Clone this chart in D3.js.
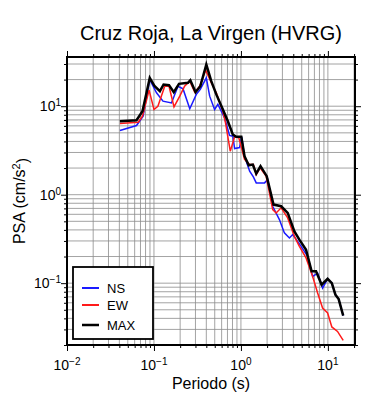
<!DOCTYPE html>
<meta charset="utf-8">
<script src="https://d3js.org/d3.v7.min.js"></script>
<style>
  body { margin: 0; background: #fff; }
  text { font-family: "Liberation Sans", Arial, sans-serif; }
</style>
<body>
<script>

var title = "Cruz Roja, La Virgen (HVRG)";

var nsPeriods = [0.0406, 0.063, 0.075, 0.0895, 0.107, 0.127, 0.159, 0.189, 0.216, 0.258, 0.307, 0.341, 0.400, 0.437, 0.498, 0.543, 0.649, 0.740, 0.808, 0.846, 0.964, 1.02, 1.10, 1.26, 1.39, 1.50, 1.87, 2.03, 2.32, 2.77, 3.16, 3.61, 3.94, 4.49, 4.92, 5.85, 6.68, 7.62, 8.69, 9.93, 11.1, 12.2, 13.3, 15.0];
var nsValues  = [5.31, 6.05, 7.71, 20.0, 14.2, 11.4, 10.9, 16.8, 15.7, 9.35, 13.6, 15.5, 20.9, 13.0, 9.18, 10.5, 7.39, 4.67, 4.58, 3.32, 3.41, 4.51, 2.72, 1.84, 1.59, 1.36, 1.36, 1.48, 0.740, 0.523, 0.370, 0.324, 0.354, 0.297, 0.261, 0.201, 0.119, 0.130, 0.088, 0.112, 0.100, 0.074, 0.066, 0.043];

var ewPeriods = [0.0406, 0.0658, 0.0738, 0.0879, 0.100, 0.111, 0.133, 0.149, 0.170, 0.198, 0.225, 0.258, 0.294, 0.335, 0.393, 0.456, 0.521, 0.620, 0.665, 0.754, 0.846, 0.946, 1.10, 1.26, 1.39, 1.50, 1.66, 1.95, 2.32, 2.54, 2.90, 3.45, 4.12, 4.70, 5.61, 6.68, 7.62, 8.69, 9.93, 11.1, 12.9, 15.0];
var ewValues  = [6.37, 6.59, 7.71, 15.2, 9.18, 10.0, 16.8, 16.8, 9.82, 12.98, 16.8, 19.2, 14.4, 16.8, 25.5, 18.4, 14.2, 8.78, 6.49, 3.10, 4.51, 4.39, 2.50, 2.19, 2.19, 1.69, 2.01, 1.62, 0.678, 0.622, 0.710, 0.547, 0.338, 0.261, 0.193, 0.119, 0.0774, 0.0524, 0.0460, 0.0320, 0.0285, 0.0225];

var maxPeriods = [0.0406, 0.063, 0.0738, 0.0895, 0.102, 0.117, 0.129, 0.149, 0.169, 0.194, 0.246, 0.262, 0.301, 0.341, 0.400, 0.456, 0.521, 0.620, 0.708, 0.808, 0.883, 1.01, 1.10, 1.23, 1.37, 1.50, 1.68, 1.98, 2.37, 2.90, 3.45, 4.12, 4.70, 5.61, 6.50, 7.31, 8.47, 9.93, 11.1, 12.2, 13.3, 15.0];
var maxValues  = [6.76, 6.95, 8.78, 20.9, 16.8, 14.8, 17.6, 17.3, 14.4, 17.9, 18.4, 19.7, 14.4, 16.8, 29.6, 19.2, 13.6, 9.18, 6.76, 4.78, 4.51, 4.51, 2.72, 2.15, 2.19, 1.73, 2.10, 1.62, 0.773, 0.740, 0.622, 0.385, 0.310, 0.239, 0.136, 0.136, 0.096, 0.112, 0.100, 0.074, 0.066, 0.043];

var seriesNames  = ["NS", "EW", "MAX"];
var seriesColors = ["#1a1aff", "#ff1a1a", "#000000"];
var xMajorTicks = [0.01, 0.1, 1, 10];
var xTickExps   = ["-2", "-1", "0", "1"];
var yMajorTicks = [0.1, 1, 10];
var yTickExps   = ["-1", "0", "1"];

var margin = {top: 57, left: 67},
    width = 288,
    height = 288;

var x = d3.scaleLog().domain([0.01, 20.5]).range([0, width]);
var y = d3.scaleLog().domain([0.02, 36]).range([height, 0]);

var svg = d3.select("body").append("svg")
    .attr("width", 390)
    .attr("height", 400);

var g = svg.append("g")
    .attr("transform", "translate(" + margin.left + "," + margin.top + ")");

// minor + major grid values
var xGrid = [], yGrid = [];
[0.01, 0.1, 1, 10].forEach(function(d) {
  for (var k = 1; k < 10; k++) { if (d * k <= 20.5) xGrid.push(d * k); }
});
[0.01, 0.1, 1, 10].forEach(function(d) {
  for (var k = 1; k < 10; k++) { if (d * k >= 0.02 && d * k <= 36) yGrid.push(d * k); }
});

g.append("g").selectAll("line")
  .data(xGrid).enter().append("line")
  .attr("x1", d => x(d)).attr("x2", d => x(d))
  .attr("y1", 0).attr("y2", height)
  .attr("stroke", "#8c8c8c").attr("stroke-width", 0.8);

g.append("g").selectAll("line")
  .data(yGrid).enter().append("line")
  .attr("y1", d => y(d)).attr("y2", d => y(d))
  .attr("x1", 0).attr("x2", width)
  .attr("stroke", "#8c8c8c").attr("stroke-width", 0.8);

// ticks on all four sides, outward
function addTicks(axisFn, scale, values, size, transform) {
  g.append("g")
    .attr("transform", transform)
    .call(axisFn(scale).tickValues(values).tickSize(size).tickSizeOuter(0).tickFormat(""))
    .call(s => s.select(".domain").remove())
    .selectAll("line").attr("stroke", "#000").attr("stroke-width", 1);
}
var xMinor = xGrid.filter(d => xMajorTicks.indexOf(d) < 0);
var yMinor = yGrid.filter(d => yMajorTicks.indexOf(d) < 0);
addTicks(d3.axisBottom, x, xMajorTicks, 6, "translate(0," + height + ")");
addTicks(d3.axisBottom, x, xMinor, 3, "translate(0," + height + ")");
addTicks(d3.axisTop, x, xMajorTicks, 6, "translate(0,0)");
addTicks(d3.axisTop, x, xMinor, 3, "translate(0,0)");
addTicks(d3.axisLeft, y, yMajorTicks, 6, "translate(0,0)");
addTicks(d3.axisLeft, y, yMinor, 3, "translate(0,0)");
addTicks(d3.axisRight, y, yMajorTicks, 6, "translate(" + width + ",0)");
addTicks(d3.axisRight, y, yMinor, 3, "translate(" + width + ",0)");

// tick labels with superscripts
var xl = g.append("g").selectAll("text")
  .data(xMajorTicks).enter().append("text")
  .attr("x", d => x(d))
  .attr("y", height + 25)
  .attr("text-anchor", "middle")
  .style("font-size", "14px");
xl.append("tspan").text("10");
xl.append("tspan").attr("dy", "-0.5em").style("font-size", "10px").text((d, i) => xTickExps[i].replace("-", "\u2212"));

var yl = g.append("g").selectAll("text")
  .data(yMajorTicks).enter().append("text")
  .attr("x", -6)
  .attr("y", d => y(d) + 5)
  .attr("text-anchor", "end")
  .style("font-size", "14px");
yl.append("tspan").text("10");
yl.append("tspan").attr("dy", "-0.5em").style("font-size", "10px").text((d, i) => yTickExps[i].replace("-", "\u2212"));

// series
g.append("clipPath").attr("id", "clip")
  .append("rect").attr("width", width).attr("height", height);

var line = d3.line().x(d => x(d[0])).y(d => y(d[1]));
var series = [
  {name: "NS",  periods: nsPeriods,  values: nsValues,  width: 1.5},
  {name: "EW",  periods: ewPeriods,  values: ewValues,  width: 1.5},
  {name: "MAX", periods: maxPeriods, values: maxValues, width: 2.5}
];
series.forEach(function(s, i) {
  g.append("path")
    .datum(d3.zip(s.periods, s.values))
    .attr("clip-path", "url(#clip)")
    .attr("fill", "none")
    .attr("stroke", seriesColors[i])
    .attr("stroke-width", s.width)
    .attr("stroke-linejoin", "miter")
    .attr("d", line);
});

// frame
g.append("rect")
  .attr("width", width).attr("height", height)
  .attr("fill", "none").attr("stroke", "#000").attr("stroke-width", 2);

// legend
var leg = g.append("g").attr("transform", "translate(6,210)");
leg.append("rect")
  .attr("width", 80).attr("height", 72)
  .attr("fill", "#fff").attr("stroke", "#000").attr("stroke-width", 1.8);
var legY = [21, 38, 58];
seriesNames.forEach(function(n, i) {
  leg.append("line")
    .attr("x1", 9).attr("x2", 26)
    .attr("y1", legY[i]).attr("y2", legY[i])
    .attr("stroke", seriesColors[i]).attr("stroke-width", i == 2 ? 2.5 : 2);
  leg.append("text")
    .attr("x", 34).attr("y", legY[i] + 5)
    .style("font-size", "13px")
    .text(n);
});

// titles
svg.append("text")
  .attr("x", margin.left + width / 2)
  .attr("y", 40)
  .attr("text-anchor", "middle")
  .style("font-size", "20px")
  .text(title);

svg.append("text")
  .attr("x", margin.left + width / 2)
  .attr("y", 389)
  .attr("text-anchor", "middle")
  .style("font-size", "16px")
  .text("Periodo (s)");

var yt = svg.append("text")
  .attr("transform", "translate(25," + (margin.top + height / 2) + ") rotate(-90)")
  .attr("text-anchor", "middle")
  .style("font-size", "16px");
yt.append("tspan").text("PSA (cm/s");
yt.append("tspan").attr("dy", "-0.5em").style("font-size", "11px").text("2");
yt.append("tspan").attr("dy", "0.5em").text(")");
</script>
